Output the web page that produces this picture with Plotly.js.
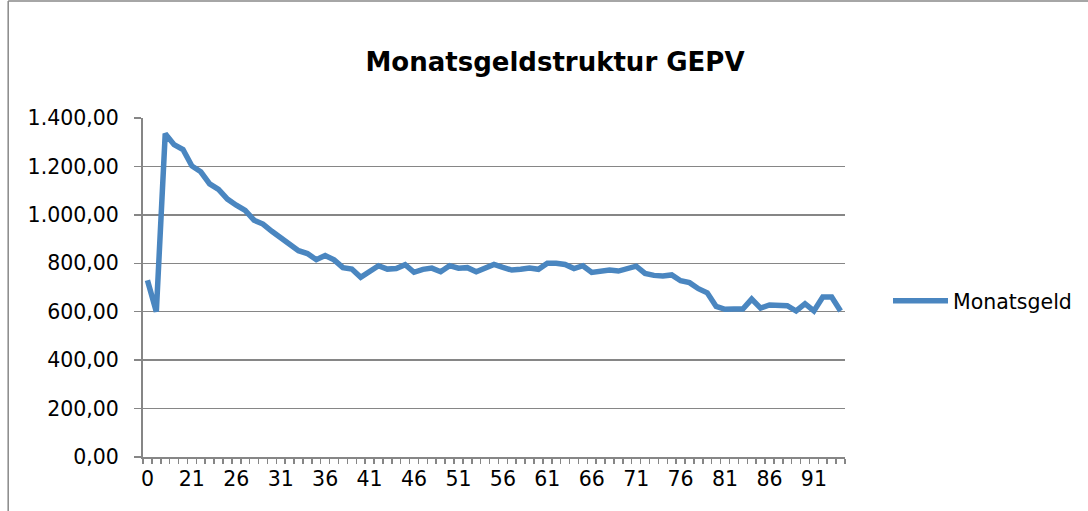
<!DOCTYPE html>
<html>
<head>
<meta charset="utf-8">
<script src="https://cdn.plot.ly/plotly-3.0.1.min.js"></script>
<style>
  html, body { margin: 0; padding: 0; background: #fff; }
  #chart { width: 1088px; height: 511px; }
</style>
</head>
<body>
<div id="chart"></div>
<script>
// Categories: "0" followed by 17 ... 94
const categories = ["0","17","18","19","20","21","22","23","24","25","26","27","28","29","30",
  "31","32","33","34","35","36","37","38","39","40","41","42","43","44","45","46","47","48","49","50",
  "51","52","53","54","55","56","57","58","59","60","61","62","63","64","65","66","67","68","69","70",
  "71","72","73","74","75","76","77","78","79","80","81","82","83","84","85","86","87","88","89","90",
  "91","92","93","94"];

const monatsgeld = [730, 600, 1335, 1290, 1270, 1202, 1178, 1128, 1105, 1065,
  1040, 1018, 978, 962, 932, 905, 878, 852, 840, 815,
  832, 814, 782, 776, 742, 768, 790, 776, 778, 794,
  763, 775, 780, 765, 790, 780, 782, 765, 780, 795,
  783, 772, 775, 780, 775, 800, 800, 795, 778, 790,
  762, 766, 772, 768, 776, 788, 758, 750, 748, 752,
  728, 720, 695, 678, 622, 610, 611, 611, 652, 615,
  628, 628, 625, 603, 633, 603, 661, 661, 603];

const seriesName = "Monatsgeld";
const chartTitle = "Monatsgeldstruktur GEPV";
const yTicks = [0, 200, 400, 600, 800, 1000, 1200, 1400];

// label every 5th category, blank for others
const tickText = categories.map((c, i) => (i % 5 === 0 ? c : ""));

const W = 1088, H = 511;
const L = 143, R = 846, T = 118, B = 457;
const pw = R - L, ph = B - T;
const px = v => (v - L) / pw;
const py = v => (B - v) / ph;

const trace = {
  x: categories,
  y: monatsgeld,
  type: "scatter",
  mode: "lines",
  name: seriesName,
  line: { color: "#4a86c0", width: 5.5 }
};

const layout = {
  width: W, height: H,
  margin: { l: L, r: W - R, t: T, b: H - B, pad: 0 },
  paper_bgcolor: "#fff",
  plot_bgcolor: "#fff",
  separators: ",.",
  font: { family: "DejaVu Sans, Verdana, sans-serif", size: 20, color: "#000" },
  title: {
    text: "<b>" + chartTitle + "</b>",
    font: { family: "DejaVu Sans, Verdana, sans-serif", size: 26, color: "#000" },
    xref: "container", yref: "container",
    x: 555 / W, y: 1 - 62 / H, xanchor: "center", yanchor: "middle"
  },
  xaxis: {
    type: "category",
    tickmode: "array",
    tickvals: categories,
    ticktext: tickText,
    tickson: "boundaries",
    tickangle: 0,
    ticks: "outside",
    ticklen: 5,
    tickwidth: 1.5,
    tickcolor: "#868686",
    showline: true,
    linecolor: "#868686",
    linewidth: 2,
    showgrid: false,
    zeroline: false,
    range: [-0.5, categories.length - 0.5],
    tickfont: { size: 20.5 },
    ticklabelstandoff: 2
  },
  yaxis: {
    range: [0, 1400],
    tickmode: "array",
    tickvals: yTicks,
    tickformat: ",.2f",
    ticks: "outside",
    ticklen: 7,
    tickwidth: 1.5,
    tickcolor: "#868686",
    showline: true,
    linecolor: "#868686",
    linewidth: 2,
    showgrid: true,
    gridcolor: "#868686",
    gridwidth: 1.5,
    zeroline: false,
    tickfont: { size: 20.5 },
    ticklabelstandoff: 11
  },
  showlegend: true,
  legend: {
    x: px(888), y: py(301), xanchor: "left", yanchor: "middle",
    font: { size: 20.5 },
    itemwidth: 55,
    bgcolor: "rgba(0,0,0,0)"
  },
  shapes: [
    { type: "line", xref: "paper", yref: "paper", x0: px(8), x1: px(1200), y0: py(1), y1: py(1),
      line: { color: "#888", width: 1.5 } },
    { type: "line", xref: "paper", yref: "paper", x0: px(8), x1: px(8), y0: py(1), y1: py(600),
      line: { color: "#888", width: 1.5 } }
  ]
};

Plotly.newPlot("chart", [trace], layout, { displayModeBar: false, staticPlot: true });
</script>
</body>
</html>
